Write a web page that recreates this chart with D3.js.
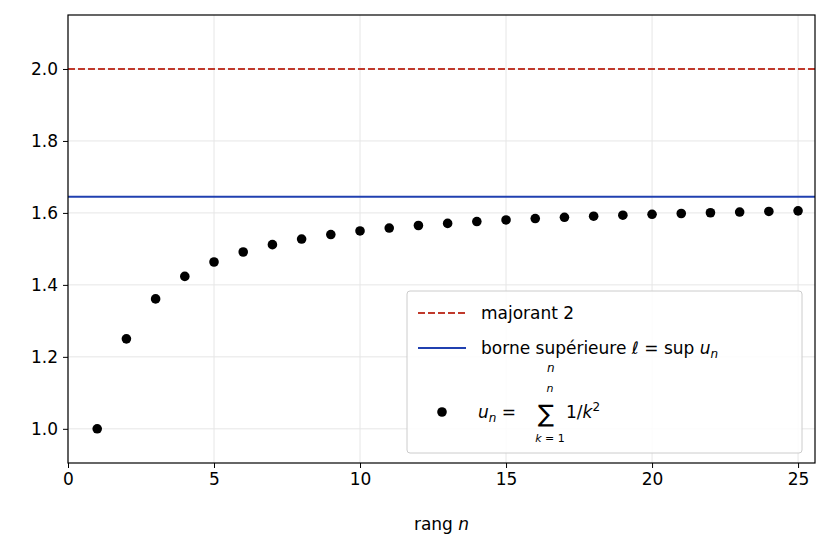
<!DOCTYPE html>
<html><head><meta charset="utf-8">
<script src="https://cdn.jsdelivr.net/npm/d3@7"></script>
<style>body{margin:0;background:#fff}text{font-family:"DejaVu Sans",sans-serif}</style>
</head><body><svg id="c" width="829" height="553"></svg>
<script>
const ranks = d3.range(1, 26);
const partialSums = [1.0, 1.25, 1.3611, 1.4236, 1.4636, 1.4914, 1.5118, 1.5274, 1.5398, 1.5498, 1.5580, 1.5650, 1.5709, 1.5760, 1.5804, 1.5843, 1.5878, 1.5909, 1.5937, 1.5962, 1.5984, 1.6005, 1.6024, 1.6041, 1.6057];
const majorant = 2.0;
const supremum = 1.6449;
const xTicks = [0, 5, 10, 15, 20, 25];
const yTicks = [1.0, 1.2, 1.4, 1.6, 1.8, 2.0];

const svg = d3.select("#c");
const L = 68, R = 815, T = 15, B = 463;
const x = d3.scaleLinear().domain([0, 25.58]).range([L, R]);
const y = d3.scaleLinear().domain([0.905, 2.15]).range([B, T]);

const g = svg.append("g");
g.selectAll(".gx").data(xTicks).join("line").attr("x1", d => x(d)).attr("x2", d => x(d)).attr("y1", T).attr("y2", B).attr("stroke", "#e6e6e6").attr("stroke-width", 1);
g.selectAll(".gy").data(yTicks).join("line").attr("y1", d => y(d)).attr("y2", d => y(d)).attr("x1", L).attr("x2", R).attr("stroke", "#e6e6e6").attr("stroke-width", 1);

svg.append("line").attr("x1", L).attr("x2", R).attr("y1", y(majorant)).attr("y2", y(majorant)).attr("stroke", "#c0392b").attr("stroke-width", 2).attr("stroke-dasharray", "7,3");
svg.append("line").attr("x1", L).attr("x2", R).attr("y1", y(supremum)).attr("y2", y(supremum)).attr("stroke", "#2040b0").attr("stroke-width", 2);

svg.selectAll(".pt").data(ranks).join("circle").attr("cx", d => x(d)).attr("cy", (d, i) => y(partialSums[i])).attr("r", 4.8).attr("fill", "#000");

const xa = svg.append("g").attr("transform", `translate(0,${B})`).call(d3.axisBottom(x).tickValues(xTicks).tickSize(5).tickPadding(5));
const ya = svg.append("g").attr("transform", `translate(${L},0)`).call(d3.axisLeft(y).tickValues(yTicks).tickFormat(d3.format(".1f")).tickSize(5).tickPadding(5));
[xa, ya].forEach(a => { a.attr("font-size", 17).attr("font-family", "DejaVu Sans"); a.selectAll("text").style("font-size", "17px").attr("fill", "#000"); a.select(".domain").remove(); });
svg.append("rect").attr("x", L).attr("y", T).attr("width", R - L).attr("height", B - T).attr("fill", "none").attr("stroke", "#000").attr("stroke-width", 1.2);

const xl = svg.append("text").attr("x", (L + R) / 2).attr("y", 530).attr("text-anchor", "middle").style("font-size", "17px");
xl.append("tspan").text("rang ");
xl.append("tspan").attr("font-style", "italic").text("n");

// legend
const lg = svg.append("g");
lg.append("rect").attr("x", 407).attr("y", 291).attr("width", 395).attr("height", 162).attr("rx", 3).attr("fill", "rgba(255,255,255,0.85)").attr("stroke", "#ccc");
lg.append("line").attr("x1", 418).attr("x2", 466).attr("y1", 313).attr("y2", 313).attr("stroke", "#c0392b").attr("stroke-width", 2).attr("stroke-dasharray", "7,3");
lg.append("text").attr("x", 481).attr("y", 319).style("font-size", "17px").text("majorant 2");
lg.append("line").attr("x1", 418).attr("x2", 466).attr("y1", 348).attr("y2", 348).attr("stroke", "#2040b0").attr("stroke-width", 2);
const t2 = lg.append("text").attr("x", 481).attr("y", 354).style("font-size", "17px");
t2.append("tspan").text("borne supérieure ");
t2.append("tspan").attr("font-style", "italic").text("ℓ");
t2.append("tspan").text(" = ");
const supT = t2.append("tspan").text("sup");
t2.append("tspan").text(" ");
t2.append("tspan").attr("font-style", "italic").text("u");
t2.append("tspan").attr("font-style", "italic").style("font-size", "12px").attr("dy", 4).text("n");
const supBox = supT.node().getBBox ? null : null;
const txt = t2.node();
const full = txt.textContent;
const idx = full.indexOf("sup");
const s0 = txt.getStartPositionOfChar(idx).x, s1 = txt.getEndPositionOfChar(idx + 2).x;
lg.append("text").attr("x", (s0 + s1) / 2).attr("y", 372).style("font-size", "12px").attr("font-style", "italic").attr("text-anchor", "middle").text("n");
lg.append("circle").attr("cx", 442).attr("cy", 412).attr("r", 4.8).attr("fill", "#000");
const t3 = lg.append("text").attr("x", 478).attr("y", 418).style("font-size", "17px");
t3.append("tspan").attr("font-style", "italic").text("u");
t3.append("tspan").attr("font-style", "italic").style("font-size", "12px").attr("dy", 4).text("n");
t3.append("tspan").attr("dy", -4).text(" = ");
lg.append("text").attr("x", 538).attr("y", 422).style("font-size", "24px").text("∑");
lg.append("text").attr("x", 550).attr("y", 392).style("font-size", "11px").attr("font-style", "italic").attr("text-anchor", "middle").text("n");
lg.append("text").attr("x", 550).attr("y", 442).style("font-size", "11px").attr("text-anchor", "middle").html("<tspan font-style='italic'>k</tspan> = 1");
const t4 = lg.append("text").attr("x", 566).attr("y", 418).style("font-size", "17px");
t4.append("tspan").text("1/");
t4.append("tspan").attr("font-style", "italic").text("k");
t4.append("tspan").style("font-size", "12px").attr("dy", -7).text("2");
</script></body></html>
